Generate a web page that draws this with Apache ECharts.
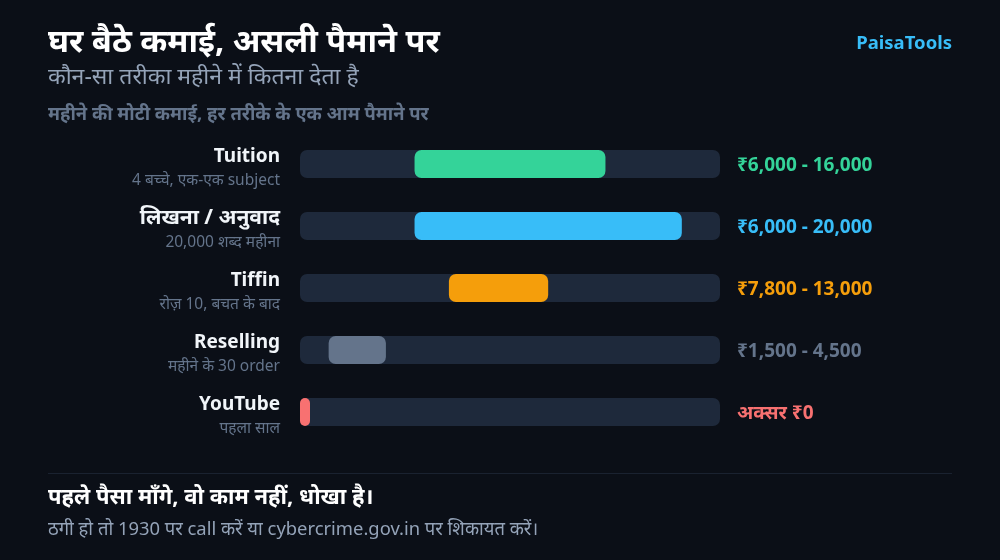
<!DOCTYPE html>
<html><head><meta charset="utf-8">
<script src="https://cdn.jsdelivr.net/npm/echarts@6/dist/echarts.min.js"></script>
<style>html,body{margin:0;padding:0;background:#0b0f17;}#c{width:1000px;height:560px;}</style>
</head><body><div id="c"></div>
<script>
const categories = ['Tuition', 'लिखना / अनुवाद', 'Tiffin', 'Reselling', 'YouTube'];
const subLabels = ['4 बच्चे, एक-एक subject', '20,000 शब्द महीना', 'रोज़ 10, बचत के बाद', 'महीने के 30 order', 'पहला साल'];
const lowValues = [6000, 6000, 7800, 1500, 0];
const highValues = [16000, 20000, 13000, 4500, 0];
const rangeLabels = ['₹6,000 - 16,000', '₹6,000 - 20,000', '₹7,800 - 13,000', '₹1,500 - 4,500', 'अक्सर ₹0'];
const barColors = ['#34d399', '#38bdf8', '#f59e0b', '#64748b', '#f87171'];
const labelColors = ['#34d399', '#38bdf8', '#f59e0b', '#64748b', '#f87171'];
const scaleMax = 22000;

const FONT = "'Noto Sans', 'Noto Sans Devanagari', sans-serif";
const chart = echarts.init(document.getElementById('c'));

const rangeData = categories.map((c, i) => [lowValues[i], highValues[i], i]);
const isDeva = s => /[\u0900-\u097F]/.test(s);

chart.setOption({
  backgroundColor: '#0b0f17',
  textStyle: { fontFamily: FONT },
  grid: { left: 300, right: 280, top: 133, bottom: 117 },
  xAxis: { type: 'value', min: 0, max: scaleMax, show: false },
  yAxis: {
    type: 'category', data: categories, inverse: true,
    axisLine: { show: false }, axisTick: { show: false }, splitLine: { show: false },
    axisLabel: {
      margin: 20,
      align: 'right',
      formatter: (v, i) => '{' + (isDeva(v) ? 'nd' : 'n') + '|' + v + '}\n{s|' + subLabels[i] + '}',
      rich: {
        n: { fontFamily: FONT, fontSize: 19, fontWeight: 'bold', color: '#f1f5f9', align: 'right', lineHeight: 34, padding: [11, 0, 0, 0] },
        nd: { fontFamily: FONT, fontSize: 21, fontWeight: 'bold', color: '#f1f5f9', align: 'right', lineHeight: 34, padding: [11, 0, 0, 0] },
        s: { fontFamily: FONT, fontSize: 15.5, color: '#64748b', align: 'right', lineHeight: 26 }
      }
    }
  },
  series: [
    {
      type: 'bar', barWidth: 28, silent: true,
      data: categories.map((c, i) => ({
        value: scaleMax,
        label: {
          show: true, position: 'right', distance: 17, offset: [0, 2],
          formatter: rangeLabels[i],
          color: labelColors[i], fontFamily: FONT, fontSize: 19, fontWeight: 'bold'
        }
      })),
      itemStyle: { color: '#1e293b', borderRadius: 7 },
      z: 1
    },
    {
      type: 'custom', silent: true, z: 5,
      data: rangeData,
      encode: { x: [0, 1], y: 2 },
      renderItem: (params, api) => {
        const i = api.value(2);
        const p0 = api.coord([api.value(0), i]);
        const p1 = api.coord([api.value(1), i]);
        const h = 28;
        let w = p1[0] - p0[0];
        if (w < 10) w = 10;
        return {
          type: 'rect',
          shape: { x: p0[0], y: p0[1] - h / 2, width: w, height: h, r: w < 20 ? 5 : 7 },
          style: { fill: barColors[i] }
        };
      }
    }
  ],
  graphic: [
    { type: 'text', left: 48, top: 26, style: { text: 'घर बैठे कमाई, असली पैमाने पर', fill: '#ffffff', font: 'bold 32.5px ' + FONT } },
    { type: 'text', left: 48, top: 66, style: { text: 'कौन-सा तरीका महीने में कितना देता है', fill: '#94a3b8', font: '23px ' + FONT } },
    { type: 'text', left: 48, top: 106, style: { text: 'महीने की मोटी कमाई, हर तरीके के एक आम पैमाने पर', fill: '#64748b', font: 'bold 18.4px ' + FONT } },
    { type: 'text', right: 48, top: 34, style: { text: 'PaisaTools', fill: '#38bdf8', font: 'bold 18.5px ' + FONT } },
    { type: 'line', shape: { x1: 48, y1: 473.5, x2: 952, y2: 473.5 }, style: { stroke: '#1a2230', lineWidth: 1 } },
    { type: 'text', left: 48, top: 487, style: { text: 'पहले पैसा माँगे, वो काम नहीं, धोखा है।', fill: '#ffffff', font: 'bold 22px ' + FONT } },
    { type: 'text', left: 48, top: 521, style: { text: 'ठगी हो तो 1930 पर call करें या cybercrime.gov.in पर शिकायत करें।', fill: '#94a3b8', font: '18.4px ' + FONT } }
  ]
});
</script></body></html>
